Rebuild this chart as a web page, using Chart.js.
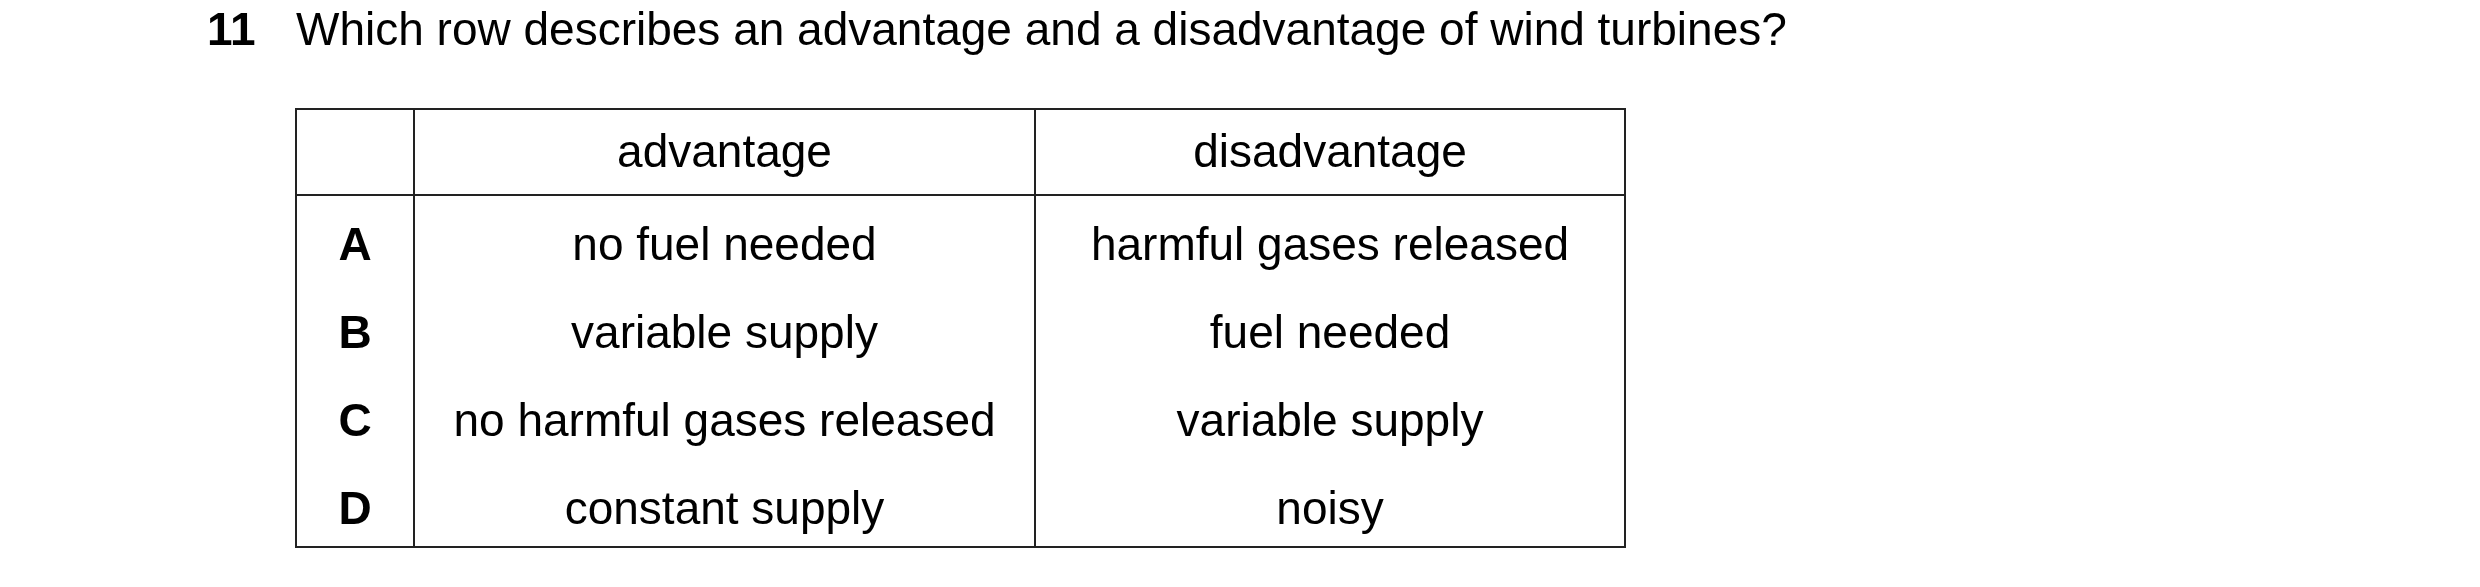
<!DOCTYPE html>
<html><head><meta charset="utf-8">
<script src="https://cdn.jsdelivr.net/npm/chart.js@4"></script>
<style>html,body{margin:0;padding:0;background:#fff}#wrap{width:2480px;height:587px}</style>
</head><body><div id="wrap"><canvas id="c"></canvas></div>
<script>
const questionNumber = "11";
const questionText = "Which row describes an advantage and a disadvantage of wind turbines?";
const columnHeaders = ["", "advantage", "disadvantage"];
const rowLabels = ["A", "B", "C", "D"];
const advantages = ["no fuel needed", "variable supply", "no harmful gases released", "constant supply"];
const disadvantages = ["harmful gases released", "fuel needed", "variable supply", "noisy"];

// column edges and row edges in scale units
const colEdges = [0, 118, 739, 1329];
const rowEdges = [0, 86, 174, 262, 350, 438];

const FONT = '46px "Liberation Sans", Arial, sans-serif';
const BOLD = 'bold 46px "Liberation Sans", Arial, sans-serif';

const tablePlugin = {
  id: 'table',
  afterDraw(chart) {
    const ctx = chart.ctx, xs = chart.scales.x, ys = chart.scales.y;
    const X = v => xs.getPixelForValue(v), Y = v => ys.getPixelForValue(v);
    ctx.save();
    ctx.fillStyle = '#000';
    ctx.textBaseline = 'middle';
    ctx.font = BOLD;
    ctx.textAlign = 'left';
    ctx.fillText(questionNumber, 207, 32);
    ctx.font = FONT;
    ctx.fillText(questionText, 296, 32);
    ctx.strokeStyle = '#222'; ctx.lineWidth = 2;
    ctx.strokeRect(X(colEdges[0]), Y(rowEdges[0]), X(colEdges[3]) - X(colEdges[0]), Y(rowEdges[5]) - Y(rowEdges[0]));
    ctx.beginPath();
    [1, 2].forEach(i => { ctx.moveTo(X(colEdges[i]), Y(rowEdges[0])); ctx.lineTo(X(colEdges[i]), Y(rowEdges[5])); });
    ctx.moveTo(X(colEdges[0]), Y(rowEdges[1])); ctx.lineTo(X(colEdges[3]), Y(rowEdges[1]));
    ctx.stroke();
    ctx.textAlign = 'center';
    const cx = i => (X(colEdges[i]) + X(colEdges[i + 1])) / 2;
    const cy = r => (Y(rowEdges[r]) + Y(rowEdges[r + 1])) / 2;
    columnHeaders.forEach((h, i) => ctx.fillText(h, cx(i), cy(0) + 2));
    rowLabels.forEach((l, r) => {
      const y = cy(r + 1) + 8;
      ctx.font = BOLD;
      ctx.fillText(l, cx(0), y);
      ctx.font = FONT;
      ctx.fillText(advantages[r], cx(1), y);
      ctx.fillText(disadvantages[r], cx(2), y);
    });
    ctx.restore();
  }
};

new Chart(document.getElementById('c'), {
  type: 'scatter',
  data: { datasets: [{ data: [] }] },
  options: {
    responsive: true, maintainAspectRatio: false, animation: false,
    layout: { padding: { left: 296, top: 109, right: 855, bottom: 40 } },
    plugins: { legend: { display: false }, tooltip: { enabled: false } },
    scales: {
      x: { type: 'linear', min: colEdges[0], max: colEdges[3], display: false },
      y: { type: 'linear', min: rowEdges[0], max: rowEdges[5], reverse: true, display: false }
    }
  },
  plugins: [tablePlugin]
});
</script></body></html>
